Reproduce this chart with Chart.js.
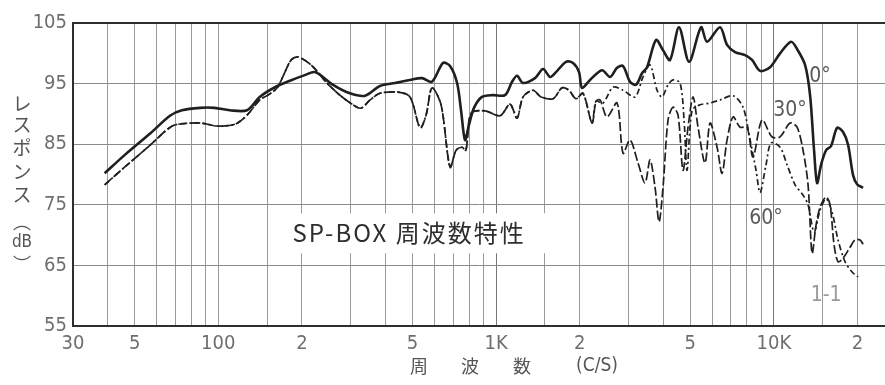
<!DOCTYPE html>
<html>
<head>
<meta charset="utf-8">
<script src="https://cdn.jsdelivr.net/npm/chart.js@4.4.1/dist/chart.umd.min.js"></script>
<style>
  html, body { margin: 0; padding: 0; background: #fff; }
  canvas { display: block; }
</style>
</head>
<body>
<canvas id="c" width="885" height="385"></canvas>
<script>
// Frequency grid (Hz) and labelled ticks
const gridFreqs = [30, 40, 50, 60, 70, 80, 90, 100, 150, 200, 300, 400, 500, 600, 700, 800, 900,
  1000, 1500, 2000, 3000, 4000, 5000, 6000, 7000, 8000, 9000, 10000, 15000, 20000];
const tickLabelFreqs = [30, 50, 100, 200, 500, 1000, 2000, 5000, 10000, 20000];
const tickLabelTexts = ['30', '5', '100', '2', '5', '1K', '2', '5', '10K', '2'];
const dbTicks = [55, 65, 75, 85, 95, 105];

// 0° (on axis)
const freq0 = [39, 46, 57, 67, 74, 86, 97, 110, 127, 141, 160, 184, 205, 223, 259, 298, 338, 382, 433, 490,
  541, 588, 644, 683, 724, 748, 773, 799, 833, 890, 975, 1077, 1142, 1190, 1251, 1381, 1476, 1564, 1644,
  1786, 1893, 1989, 2039, 2179, 2407, 2572, 2726, 2865, 3036, 3192, 3353, 3496, 3767, 3991, 4230, 4557,
  4952, 5470, 5748, 6402, 6786, 7252, 7877, 8349, 8919, 9687, 10530, 11535, 12123, 12951, 13500, 13956,
  14307, 14790, 15414, 16068, 16887, 17748, 18498, 19281, 19932, 20946];
const db0 = [80.2, 83.2, 86.8, 89.7, 90.6, 91.0, 91.0, 90.6, 90.6, 92.8, 94.4, 95.6, 96.4, 96.9, 94.8, 93.4,
  93.0, 94.6, 95.1, 95.6, 95.9, 95.3, 98.4, 97.9, 95.1, 90.6, 85.7, 88.2, 91.0, 92.8, 93.1, 93.1, 95.3,
  96.3, 95.1, 95.9, 97.4, 96.1, 96.9, 98.6, 98.4, 96.9, 94.3, 95.6, 97.2, 96.1, 97.6, 97.9, 95.3, 94.8,
  96.7, 97.7, 102.2, 100.5, 98.9, 104.3, 98.6, 104.3, 101.9, 104.3, 101.4, 100.2, 99.7, 98.9, 97.1, 97.7,
  100.0, 101.9, 100.7, 98.1, 93.1, 84.0, 78.6, 81.6, 84.0, 84.7, 87.7, 87.0, 84.9, 79.9, 78.4, 77.8];

// Off-axis curves run together up to about 2.3 kHz
const freqLow = [39, 46, 57, 65, 70, 86, 99, 115, 127, 141, 151, 163, 173, 183, 194, 218, 246, 279, 316,
  329, 352, 382, 444, 490, 533, 560, 588, 634, 683, 718, 754, 779, 813, 913, 1034, 1123, 1190, 1251, 1359,
  1452, 1604, 1728, 1831, 1940, 2056, 2216, 2290];
const dbLow = [78.3, 81.2, 84.9, 87.3, 88.2, 88.5, 88.0, 88.3, 89.8, 92.3, 93.1, 94.3, 96.7, 98.9, 99.4,
  97.9, 95.1, 92.8, 91.1, 91.0, 92.3, 93.4, 93.6, 92.8, 87.7, 89.8, 94.3, 91.5, 81.2, 84.0, 84.5, 84.0,
  90.1, 90.5, 89.7, 91.6, 89.3, 92.8, 93.9, 92.8, 92.5, 94.3, 93.9, 92.5, 93.4, 88.5, 92.1];

// 30° above 2.3 kHz
const freq30Hi = [2368, 2509, 2726, 2865, 3036, 3244, 3438, 3584, 3735, 3861, 3991, 4161, 4335, 4520, 4710,
  4910, 5119, 5335, 5654, 5894, 6246, 6510, 6786, 7131, 7557, 8010, 8415, 9069, 9849, 10530, 11439, 12123,
  12738, 13278, 13725, 14190, 14667, 15414, 15933, 16473, 17025, 17748, 18810, 19605, 20433, 20946];
const db30Hi = [92.3, 89.5, 91.8, 83.5, 85.7, 81.9, 78.6, 82.4, 77.9, 72.2, 77.9, 89.0, 91.1, 89.8, 80.7,
  87.8, 92.8, 87.8, 81.9, 88.5, 84.5, 80.2, 85.7, 89.5, 87.8, 87.8, 82.9, 89.0, 86.2, 86.2, 88.5, 87.8,
  84.0, 78.3, 67.0, 71.7, 74.6, 76.3, 75.0, 68.4, 65.6, 66.2, 68.0, 69.2, 69.2, 68.5];

// 60° above 2.3 kHz
const freq60Hi = [2427, 2637, 2865, 3165, 3381, 3584, 3798, 3958, 4161, 4335, 4596, 4751, 4870, 5077, 5425,
  5894, 6402, 7131, 7746, 8212, 8628, 8919, 9372, 9768, 10530, 11157, 11922, 12738, 13278, 13956, 14667,
  15414, 16200, 17025, 18045, 19125, 20097];
const db60Hi = [91.8, 94.4, 93.9, 92.8, 96.1, 98.1, 93.9, 92.8, 94.8, 95.6, 95.1, 89.0, 80.7, 90.6, 91.5,
  91.8, 92.3, 93.0, 91.1, 85.7, 80.7, 77.0, 81.6, 85.2, 84.5, 81.6, 78.3, 76.6, 75.0, 70.5, 74.1, 76.0,
  73.8, 69.2, 65.6, 63.9, 63.1];

const toPoints = (fs, ds) => fs.map((f, i) => ({ x: f, y: ds[i] }));

const NUM_FONT = '"Liberation Sans Narrow", "DejaVu Sans Condensed", "Arial Narrow", sans-serif';
const CJK_FONT = '"Noto Sans CJK JP", "Noto Sans CJK SC", sans-serif';
const INK = '#1f1f1f';

// Text placed on the plot, anchored to frequency / level
const curveNotes = [
  { text: '0°', f: 14667, db: 96.1, color: '#5a5a5a' },
  { text: '30°', f: 11439, db: 90.5, color: '#5a5a5a' },
  { text: '60°', f: 9372, db: 72.8, color: '#5a5a5a' },
  { text: '1-1', f: 15414, db: 60.1, color: '#9a9a9a' }
];

const notesPlugin = {
  id: 'notes',
  beforeDatasetsDraw(chart) {
    const { ctx, scales: { x, y } } = chart;
    // Caption box inside the plot
    const cx = x.getPixelForValue(185);
    const cy = y.getPixelForValue(70.3);
    ctx.save();
    ctx.fillStyle = '#fff';
    ctx.fillRect(cx - 5, cy - 20, 258, 40);
    ctx.fillStyle = '#2e2e2e';
    ctx.font = '24px ' + CJK_FONT;
    ctx.textBaseline = 'middle';
    ctx.textAlign = 'left';
    if ('letterSpacing' in ctx) ctx.letterSpacing = '2px';
    ctx.fillText('SP-BOX 周波数特性', cx, cy);
    ctx.restore();
  },
  afterDraw(chart) {
    const { ctx, chartArea, scales: { x, y } } = chart;
    ctx.save();
    ctx.textAlign = 'center';
    ctx.textBaseline = 'middle';
    ctx.font = '21px ' + NUM_FONT;
    curveNotes.forEach(n => {
      ctx.fillStyle = n.color;
      ctx.fillText(n.text, x.getPixelForValue(n.f), y.getPixelForValue(n.db));
    });

    // Vertical axis title, characters stacked upright
    ctx.fillStyle = '#555';
    ctx.font = '19px ' + CJK_FONT;
    const tx = 22;
    const kana = ['レ', 'ス', 'ポ', 'ン', 'ス'];
    const ky = [104, 125, 148, 172, 195];
    kana.forEach((ch, i) => ctx.fillText(ch, tx, ky[i]));
    // vertical-form parentheses around the unit
    ctx.font = '18px ' + CJK_FONT;
    ctx.fillText('︵', tx, 222);
    ctx.fillText('︶', tx, 264);
    ctx.font = '17px ' + NUM_FONT;
    ctx.fillText('dB', tx, 243);

    // Horizontal axis title
    const by = chartArea.bottom + 40;
    ctx.fillStyle = '#555';
    ctx.font = '18px ' + CJK_FONT;
    const parts = [['周', 346], ['波', 397], ['数', 449]];
    parts.forEach(([ch, dx]) => ctx.fillText(ch, chartArea.left + dx, by));
    ctx.font = '19px ' + NUM_FONT;
    ctx.fillText('(C/S)', chartArea.left + 524, by);
    ctx.restore();
  }
};

const ctx = document.getElementById('c').getContext('2d');
new Chart(ctx, {
  type: 'line',
  data: {
    datasets: [
      {
        label: '0°',
        data: toPoints(freq0, db0),
        borderColor: INK,
        borderWidth: 2.6,
        tension: 0.3
      },
      {
        label: '30°',
        data: toPoints(freqLow.concat(freq30Hi), dbLow.concat(db30Hi)),
        borderColor: INK,
        borderWidth: 1.7,
        borderDash: [9, 3],
        tension: 0.3
      },
      {
        label: '60°',
        data: toPoints(freqLow.concat(freq60Hi), dbLow.concat(db60Hi)),
        borderColor: INK,
        borderWidth: 1.7,
        borderDash: [6, 3, 2, 3],
        tension: 0.3
      }
    ]
  },
  options: {
    responsive: false,
    animation: false,
    devicePixelRatio: 1,
    layout: { padding: { top: 23, right: 0, bottom: 0, left: 0 } },
    elements: { point: { radius: 0 } },
    plugins: {
      legend: { display: false },
      tooltip: { enabled: false }
    },
    scales: {
      x: {
        type: 'logarithmic',
        min: 30,
        max: 25125,
        afterBuildTicks: s => { s.ticks = gridFreqs.map(v => ({ value: v })); },
        afterFit: s => { s.height = 59; },
        ticks: {
          autoSkip: false,
          maxRotation: 0,
          minRotation: 0,
          padding: 6,
          color: '#6e6e6e',
          font: { family: NUM_FONT, size: 20 },
          callback: v => {
            const i = tickLabelFreqs.indexOf(v);
            return i >= 0 ? tickLabelTexts[i] : '';
          }
        },
        grid: {
          drawTicks: false,
          color: c => (c.tick && (c.tick.value === 1000 || c.tick.value === 10000)) ? '#777' : '#9a9a9a',
          lineWidth: 1
        },
        border: { color: '#2e2e2e', width: 2 }
      },
      y: {
        type: 'linear',
        min: 55,
        max: 105,
        afterBuildTicks: s => { s.ticks = dbTicks.map(v => ({ value: v })); },
        afterFit: s => { s.width = 73; },
        ticks: {
          padding: 6,
          color: '#6e6e6e',
          font: { family: NUM_FONT, size: 20 }
        },
        grid: {
          drawTicks: false,
          color: c => (c.tick && c.tick.value === 105) ? '#2e2e2e' : '#8a8a8a',
          lineWidth: c => (c.tick && c.tick.value === 105) ? 2 : 1
        },
        border: { color: '#2e2e2e', width: 2 }
      }
    }
  },
  plugins: [notesPlugin]
});
</script>
</body>
</html>
